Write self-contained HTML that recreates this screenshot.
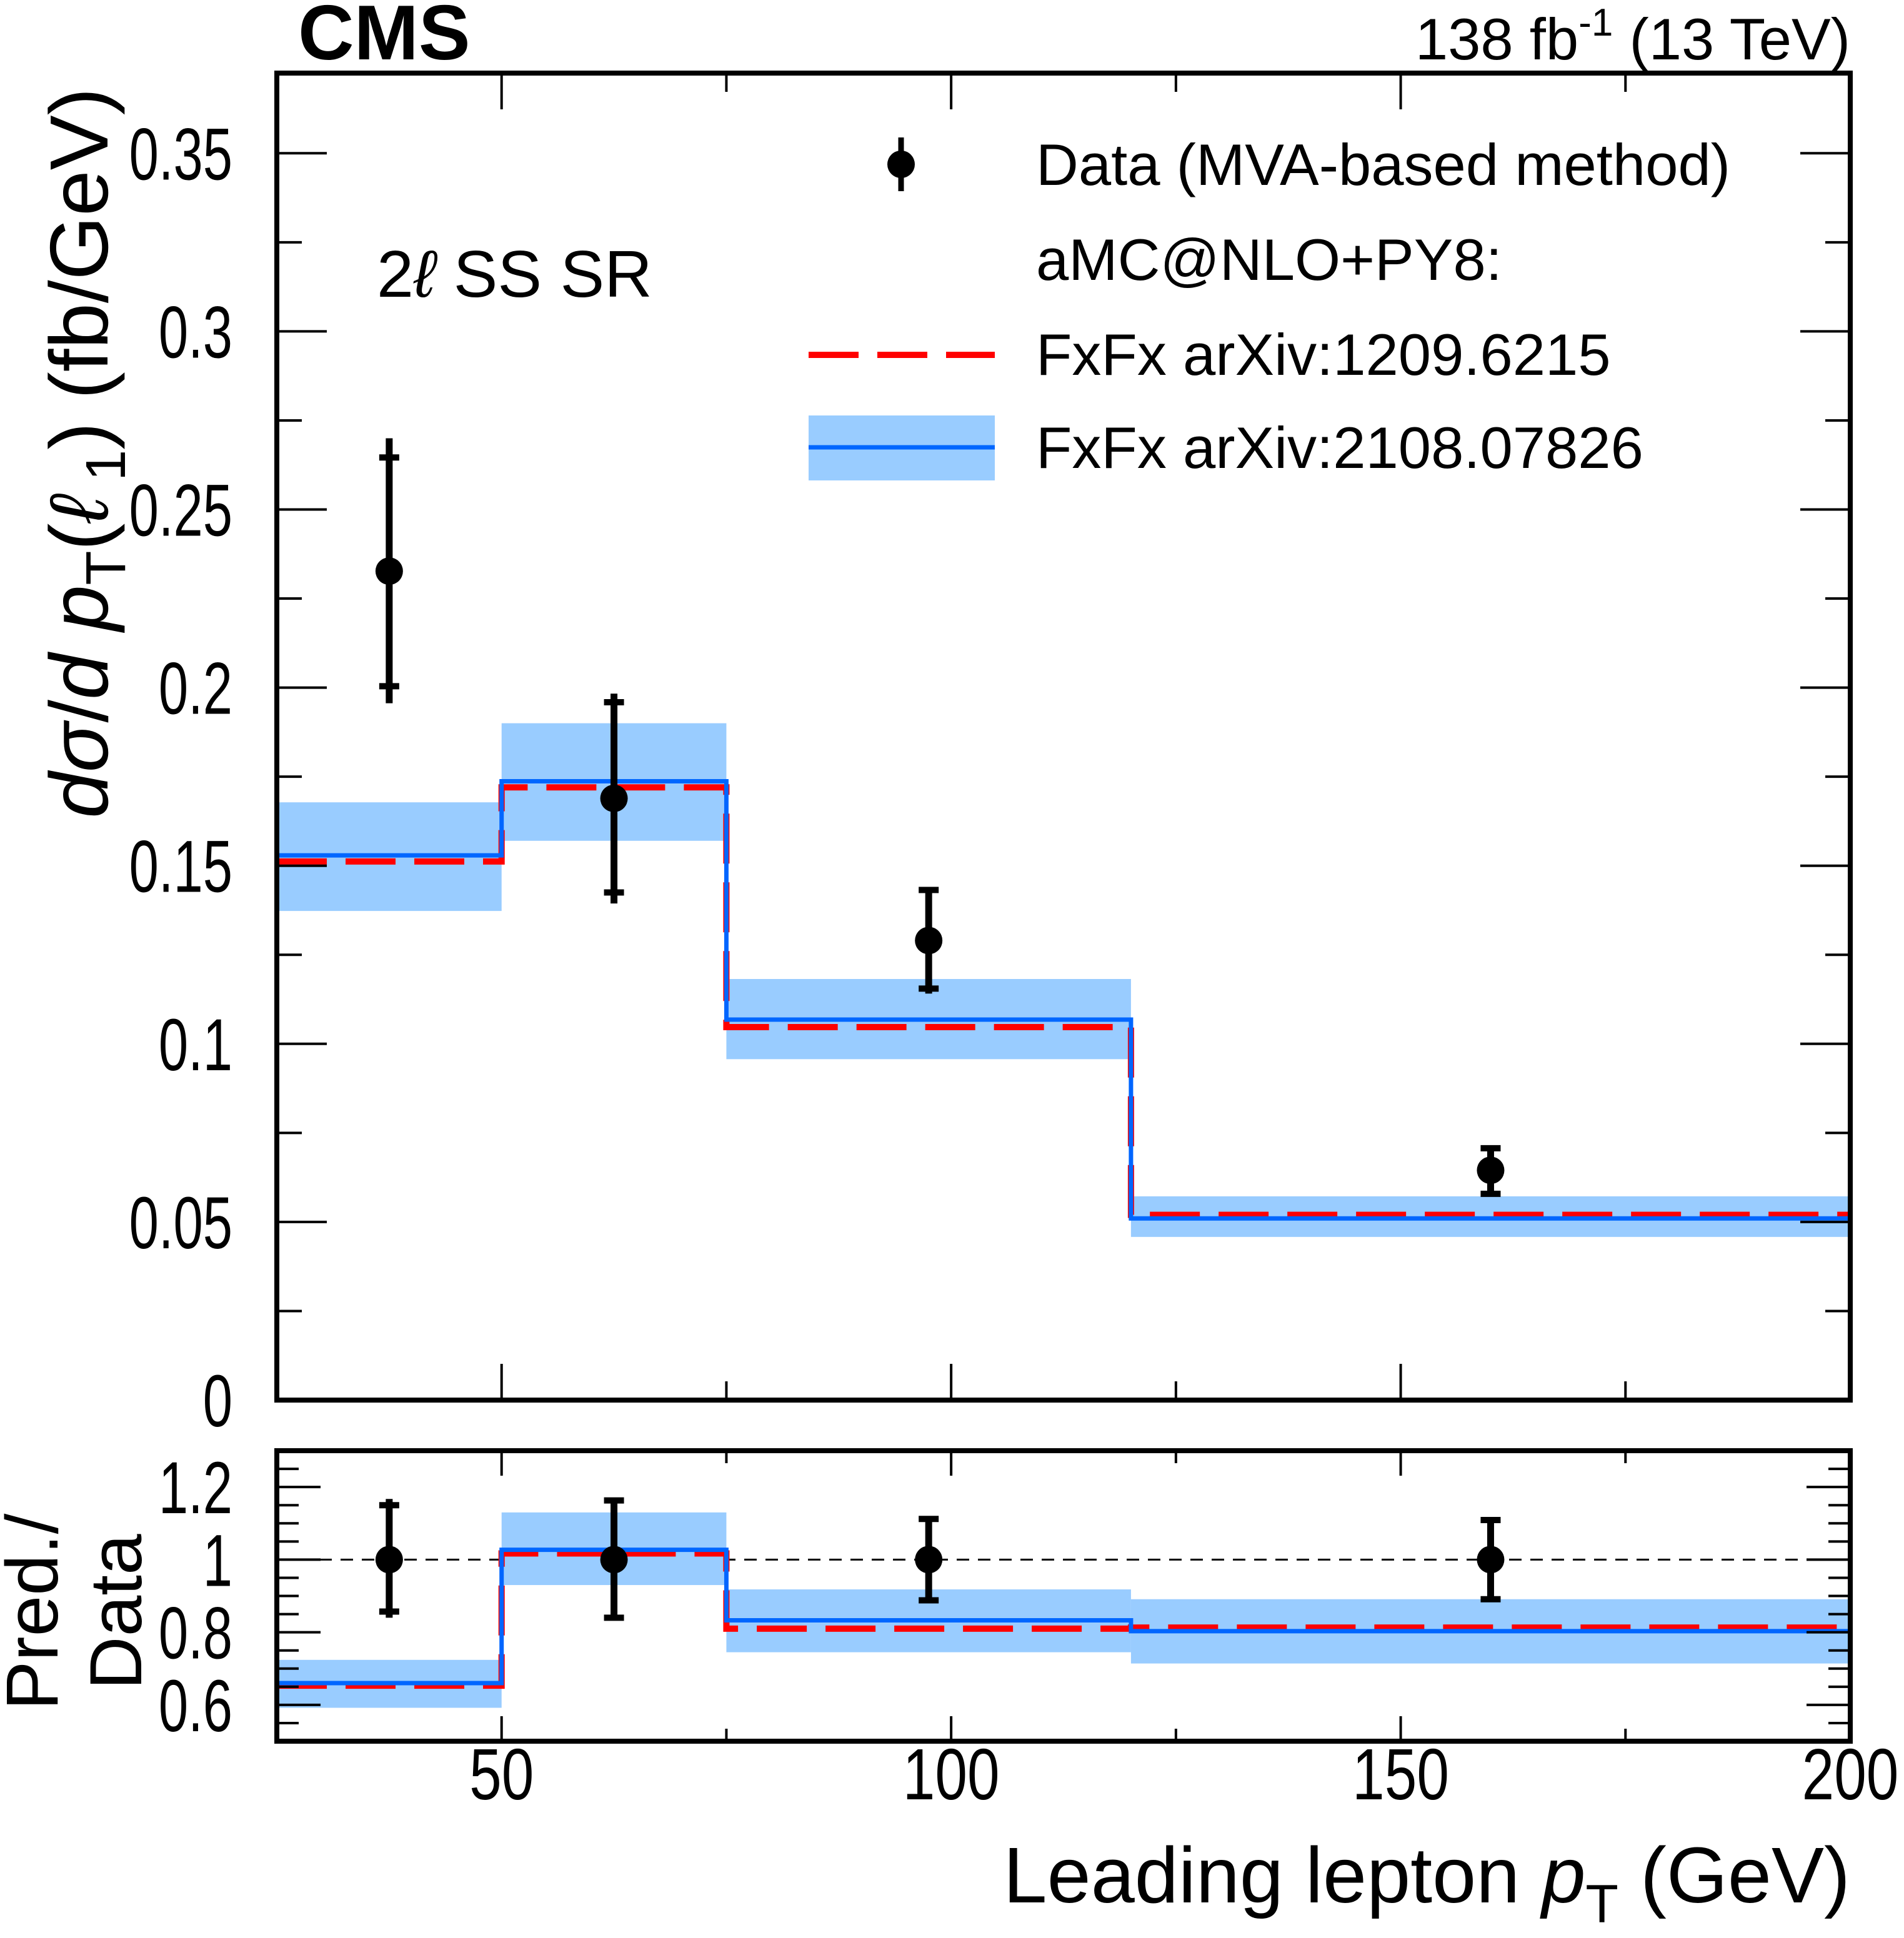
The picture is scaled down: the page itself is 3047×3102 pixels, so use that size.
<!DOCTYPE html>
<html><head><meta charset="utf-8">
<style>
html,body{margin:0;padding:0;background:#fff;}
svg{display:block;font-family:"Liberation Sans",Arial,sans-serif;}
</style></head>
<body>
<svg id="chart" width="3047" height="3102" viewBox="0 0 3047 3102" xmlns="http://www.w3.org/2000/svg">
<g id="main-layer"></g>
<g id="ratio-layer"></g>
<g id="text-layer">
<text x="477" y="95" font-size="124" font-weight="bold">CMS</text>
<text x="2961" y="95" font-size="94" text-anchor="end">138 fb<tspan dy="-38" font-size="62">-1</tspan><tspan dy="38"> (13 TeV)</tspan></text>
<text x="603" y="475" font-size="106">2<tspan font-style="italic">ℓ</tspan> SS SR</text>
<text transform="translate(172,725) rotate(-90)" font-size="132" text-anchor="middle"><tspan font-style="italic">dσ</tspan>/<tspan font-style="italic">d p</tspan><tspan font-size="90" dy="28">T</tspan><tspan dy="-28">(</tspan><tspan font-style="italic">ℓ</tspan><tspan font-size="90" dy="28"> 1</tspan><tspan dy="-28">)  (fb/GeV)</tspan></text>
<text transform="translate(92,2580) rotate(-90)" font-size="118" text-anchor="middle">Pred./</text>
<text transform="translate(226,2580) rotate(-90)" font-size="118" text-anchor="middle">Data</text>
<text x="2961" y="3045" font-size="126" text-anchor="end">Leading lepton <tspan font-style="italic">p</tspan><tspan font-size="86" dy="32">T</tspan><tspan dy="-32"> (GeV)</tspan></text>
</g>
<g id="legend">
<g>
<line x1="1442" y1="220" x2="1442" y2="306" stroke="#000" stroke-width="9"/>
<circle cx="1442" cy="263" r="22" fill="#000"/>
<text x="1658" y="296" font-size="94">Data (MVA-based method)</text>
</g>
<text x="1658" y="448" font-size="94">aMC@NLO+PY8:</text>
<g>
<line x1="1294" y1="568" x2="1592" y2="568" stroke="#ff0000" stroke-width="10" stroke-dasharray="80,30"/>
<text x="1658" y="600" font-size="94">FxFx arXiv:1209.6215</text>
</g>
<g>
<rect x="1294" y="665" width="298" height="104" fill="#99ccff"/>
<line x1="1294" y1="716" x2="1592" y2="716" stroke="#0066ff" stroke-width="7"/>
<text x="1658" y="749" font-size="94">FxFx arXiv:2108.07826</text>
</g>
</g>
</svg>
<script>
// ---- data ----
const binEdges = [25, 50, 75, 120, 200];
const dataX = [37.5, 62.5, 97.5, 160];
const dataY = [0.2327, 0.1689, 0.129, 0.0645];
const dataTotUp = [0.270, 0.1983, 0.1439, 0.0714];
const dataTotDn = [0.1956, 0.1394, 0.1141, 0.0572];
const dataStatUp = [0.2646, 0.1959, 0.1432, 0.0707];
const dataStatDn = [0.2004, 0.1425, 0.1155, 0.0579];
const pred2108 = [0.1529, 0.1737, 0.1068, 0.051];
const pred1209 = [0.1512, 0.172, 0.1047, 0.052];
const bandHi = [0.1678, 0.19, 0.1182, 0.0572];
const bandLo = [0.1373, 0.157, 0.0957, 0.0458];
const ratio2108 = [0.66, 1.027, 0.833, 0.803];
const ratio1209 = [0.653, 1.017, 0.81, 0.813];
const ratioBandHi = [0.724, 1.13, 0.918, 0.891];
const ratioBandLo = [0.592, 0.93, 0.745, 0.714];
const ratioTotUp = [1.167, 1.17, 1.118, 1.115];
const ratioTotDn = [0.84, 0.834, 0.884, 0.885];
const ratioStatUp = [1.15, 1.163, 1.112, 1.109];
const ratioStatDn = [0.857, 0.84, 0.888, 0.891];
const yTicks = [0, 0.05, 0.1, 0.15, 0.2, 0.25, 0.3, 0.35];
const yTickLabels = ["0", "0.05", "0.1", "0.15", "0.2", "0.25", "0.3", "0.35"];
const rTicks = [0.6, 0.8, 1, 1.2];
const rTickLabels = ["0.6", "0.8", "1", "1.2"];
const xTicks = [50, 100, 150, 200];
const xTickLabels = ["50", "100", "150", "200"];

const NS = "http://www.w3.org/2000/svg";
const L = 443, R = 2961, MT = 117, MB = 2241, RT = 2322, RB = 2787;
const xS = v => L + (v - 25) / 175 * (R - L);
const yM = v => MB - v / 0.3725 * (MB - MT);
const yR = v => RB - (v - 0.5) / 0.8 * (RB - RT);

function mk(parent, tag, attrs) {
  const e = document.createElementNS(NS, tag);
  for (const k in attrs) e.setAttribute(k, attrs[k]);
  parent.appendChild(e);
  return e;
}
function squeeze(t, f) {
  const w = t.getComputedTextLength();
  if (w > 0) {
    t.setAttribute('textLength', w * f);
    t.setAttribute('lengthAdjust', 'spacingAndGlyphs');
  }
}
const main = document.getElementById('main-layer');
const ratio = document.getElementById('ratio-layer');

function stepPath(vals, yf) {
  let d = '';
  for (let i = 0; i < vals.length; i++) {
    const x0 = xS(binEdges[i]), x1 = xS(binEdges[i + 1]), y = yf(vals[i]);
    d += (i === 0 ? 'M' : 'L') + x0 + ',' + y + 'L' + x1 + ',' + y;
  }
  return d;
}

function panel(g, yf, hi, lo, p2108, p1209, dy, tu, td, su, sd, top, bot, ticks, labels, minorStep, ymin, ymax, majLen, minLen, xMaj, xMin, showXLabels) {
  for (let i = 0; i < hi.length; i++) {
    const b = mk(g, 'rect', {x: xS(binEdges[i]), y: yf(hi[i]), width: xS(binEdges[i + 1]) - xS(binEdges[i]), height: yf(lo[i]) - yf(hi[i]), fill: '#99ccff'});
    
    
  }
  const r = mk(g, 'path', {d: stepPath(p1209, yf), fill: 'none', stroke: '#ff0000', 'stroke-width': 10, 'stroke-dasharray': '80,30'});
  
  
  const bl = mk(g, 'path', {d: stepPath(p2108, yf), fill: 'none', stroke: '#0066ff', 'stroke-width': 7});
  
  
  for (let i = 0; i < dataX.length; i++) {
    const x = xS(dataX[i]);
    const pg = mk(g, 'g', {});
    
    
    mk(pg, 'line', {x1: x, x2: x, y1: yf(tu[i]), y2: yf(td[i]), stroke: '#000', 'stroke-width': 11});
    mk(pg, 'line', {x1: x - 16, x2: x + 16, y1: yf(su[i]), y2: yf(su[i]), stroke: '#000', 'stroke-width': 10});
    mk(pg, 'line', {x1: x - 16, x2: x + 16, y1: yf(sd[i]), y2: yf(sd[i]), stroke: '#000', 'stroke-width': 10});
    mk(pg, 'circle', {cx: x, cy: yf(dy[i]), r: 22, fill: '#000'});
  }
  for (let v = ymin; v <= ymax + 1e-9; v += minorStep) {
    const vv = Math.round(v * 1000) / 1000;
    const isMaj = ticks.some(t => Math.abs(t - vv) < 1e-6);
    const len = isMaj ? majLen : minLen;
    mk(g, 'line', {x1: L, x2: L + len, y1: yf(vv), y2: yf(vv), stroke: '#000', 'stroke-width': 4});
    mk(g, 'line', {x1: R, x2: R - len, y1: yf(vv), y2: yf(vv), stroke: '#000', 'stroke-width': 4});
  }
  for (let i = 0; i < ticks.length; i++) {
    const t = mk(g, 'text', {x: 372, y: yf(ticks[i]) + 42, 'font-size': 118, 'text-anchor': 'end'});
    t.textContent = labels[i];
    
    
    squeeze(t, 0.72);
  }
  for (let v = 25; v <= 200; v += 25) {
    const isMaj = v % 50 === 0;
    const len = isMaj ? xMaj : xMin;
    mk(g, 'line', {x1: xS(v), x2: xS(v), y1: bot, y2: bot - len, stroke: '#000', 'stroke-width': 4});
    mk(g, 'line', {x1: xS(v), x2: xS(v), y1: top, y2: top + len, stroke: '#000', 'stroke-width': 4});
  }
  if (showXLabels) {
    for (let i = 0; i < xTicks.length; i++) {
      const t = mk(g, 'text', {x: xS(xTicks[i]), y: 2880, 'font-size': 116, 'text-anchor': 'middle'});
      t.textContent = xTickLabels[i];
      
      
      squeeze(t, 0.8);
    }
  }
  const f = mk(g, 'rect', {x: L, y: top, width: R - L, height: bot - top, fill: 'none', stroke: '#000', 'stroke-width': 8});
  
  
}

panel(main, yM, bandHi, bandLo, pred2108, pred1209, dataY, dataTotUp, dataTotDn, dataStatUp, dataStatDn, MT, MB, yTicks, yTickLabels, 0.025, 0, 0.37, 80, 40, 58, 30, false);

const ref = mk(ratio, 'line', {x1: L, x2: R, y1: yR(1), y2: yR(1), stroke: '#000', 'stroke-width': 3, 'stroke-dasharray': '20,14'});


const ones = dataX.map(() => 1);
panel(ratio, yR, ratioBandHi, ratioBandLo, ratio2108, ratio1209, ones, ratioTotUp, ratioTotDn, ratioStatUp, ratioStatDn, RT, RB, rTicks, rTickLabels, 0.05, 0.55, 1.25, 70, 35, 40, 20, true);
</script>
</body></html>
